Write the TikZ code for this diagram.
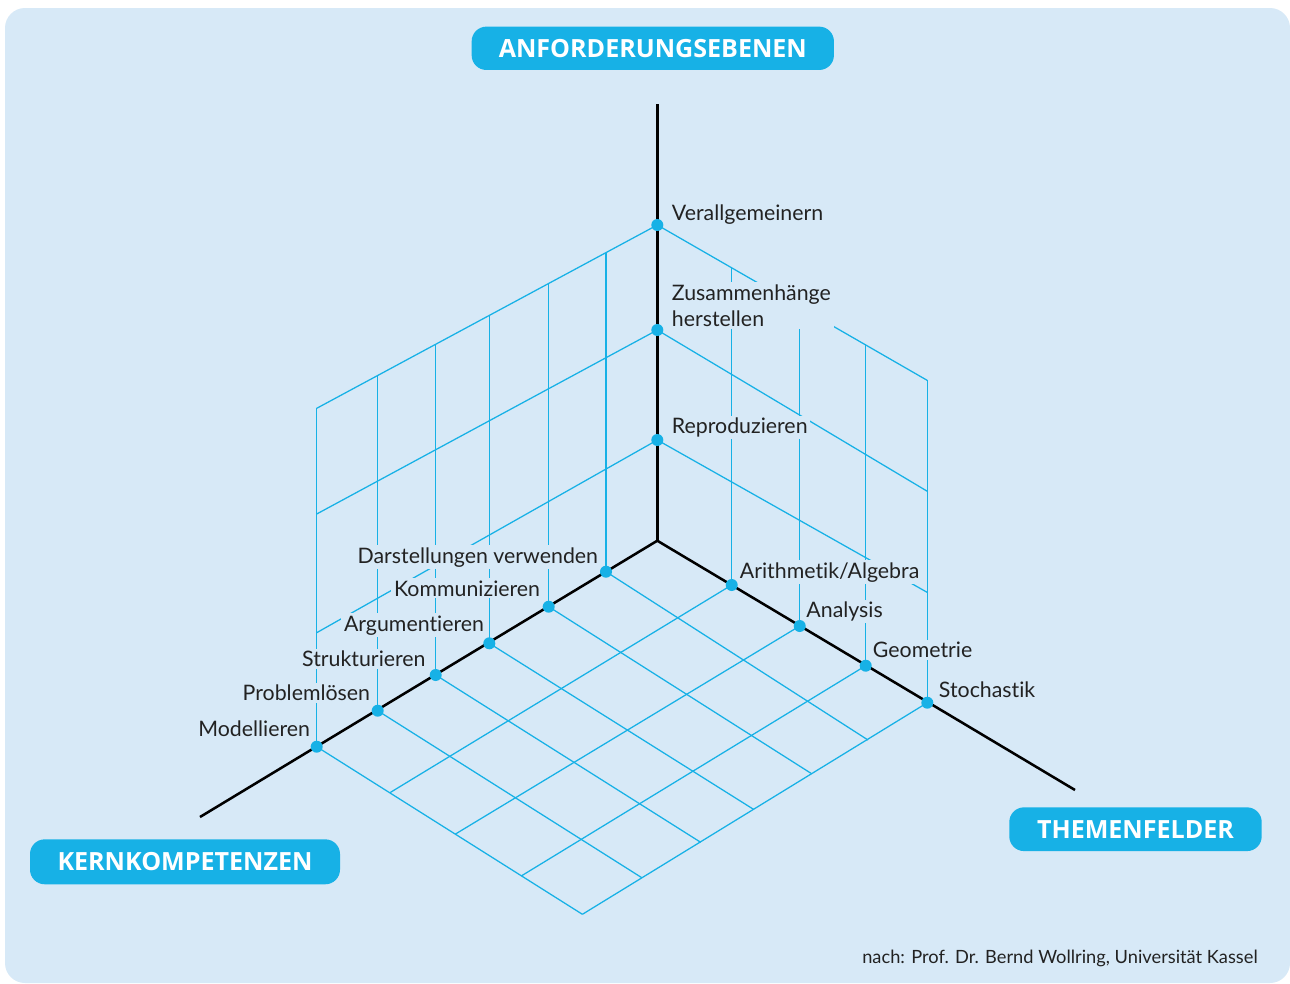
\documentclass[tikz,border=0pt]{standalone}
\usepackage{fontspec}
\setmainfont{Lato}[Ligatures=CommonOff]
\newfontfamily\headfont{Open Sans}
\begin{document}
\definecolor{bg}{HTML}{D7E9F7}
\definecolor{cyan}{HTML}{17B1E6}
\definecolor{ink}{HTML}{222222}
\begin{tikzpicture}[x=0.75pt,y=-0.75pt,
  gridline/.style={draw=cyan, line width=0.95pt},
  axisline/.style={draw=black, line width=1.9pt},
  dot/.style={circle, fill=cyan, inner sep=0pt, minimum size=9pt},
  lbl/.style={fill=bg, inner xsep=2pt, inner ysep=1.5pt, text=ink,
              font=\fontsize{16}{20}\selectfont},
  headbox/.style={fill=cyan, rounded corners=11pt, text=white,
                  font=\headfont\bfseries\fontsize{18.8}{20}\selectfont,
                  inner sep=0pt}]
% canvas and panel
\useasboundingbox (0,0) rectangle (1290,983);
\fill[white] (0,0) rectangle (1290,983);
\fill[bg, rounded corners=15pt] (5,8) rectangle (1290,983);

% axis origin and ends
\coordinate (O) at (657.3,540.7);
\coordinate (Top) at (657.3,104);
\coordinate (LEnd) at (200,817);
\coordinate (REnd) at (1075,790);

% levels on the vertical axis
\coordinate (V1) at (657.3,440);
\coordinate (V2) at (657.3,330);
\coordinate (V3) at (657.3,225);

% competences on the left axis
\coordinate (L1) at (606,571.7);
\coordinate (L2) at (548.7,606.7);
\coordinate (L3) at (489.3,643.3);
\coordinate (L4) at (435.7,675);
\coordinate (L5) at (377.7,710.7);
\coordinate (L6) at (316.7,746.7);

% topics on the right axis
\coordinate (R1) at (731.7,585);
\coordinate (R2) at (799.7,626);
\coordinate (R3) at (865.7,665.7);
\coordinate (R4) at (927.3,702.7);

% floor: far edge and near edge
\coordinate (F1) at (868,740);
\coordinate (F2) at (811,773.3);
\coordinate (F3) at (753.5,809.3);
\coordinate (F4) at (700.7,842.3);
\coordinate (F5) at (641.8,877.7);
\coordinate (C)  at (582.4,914.3);
\coordinate (G1) at (389.9,792.7);
\coordinate (G2) at (455,834.3);
\coordinate (G3) at (521.2,876);

% left wall
\coordinate (WB) at (316.7,632.7);
\coordinate (WM) at (316.7,514);
\coordinate (T1) at (606,252.6);
\coordinate (T2) at (548.7,283.4);
\coordinate (T3) at (489.3,315.4);
\coordinate (T4) at (435.7,344.3);
\coordinate (T5) at (377.7,375.5);
\coordinate (T6) at (316.7,408.3);

% right wall
\coordinate (EB) at (927.3,592.4);
\coordinate (EM) at (927.3,491.3);
\coordinate (S1) at (731.7,267.7);
\coordinate (S2) at (799.7,306.8);
\coordinate (S3) at (865.7,344.6);
\coordinate (S4) at (927.3,380.4);

% floor grid
\draw[gridline] (L1) -- (F1) (L2) -- (F2) (L3) -- (F3)
                (L4) -- (F4) (L5) -- (F5) (L6) -- (C);
\draw[gridline] (R1) -- (G1) (R2) -- (G2) (R3) -- (G3) (R4) -- (C);

% left wall grid
\draw[gridline] (V1) -- (WB) (V2) -- (WM) (V3) -- (T6);
\draw[gridline] (L1) -- (T1) (L2) -- (T2) (L3) -- (T3)
                (L4) -- (T4) (L5) -- (T5) (L6) -- (T6);

% right wall grid
\draw[gridline] (V1) -- (EB) (V2) -- (EM) (V3) -- (S4);
\draw[gridline] (R1) -- (S1) (R2) -- (S2) (R3) -- (S3) (R4) -- (S4);

% labels
\node[lbl, anchor=base west] (tV3) at (669,220.7) {Verallgemeinern};
\node[lbl, anchor=base west, align=left] (tV2) at (669,326.7) {Zusammenhänge\\herstellen};
\node[lbl, anchor=base west] (tV1) at (669,433.3) {Reproduzieren};

\node[lbl, anchor=base east] (tL1) at (601,563) {Darstellungen verwenden};
\node[lbl, anchor=base east] (tL2) at (543,596) {Kommunizieren};
\node[lbl, anchor=base east] (tL3) at (487,631) {Argumentieren};
\node[lbl, anchor=base east] (tL4) at (428.5,666.5) {Strukturieren};
\node[lbl, anchor=base east] (tL5) at (373,700.5) {Problemlösen};
\node[lbl, anchor=base east] (tL6) at (313,736) {Modellieren};

\node[lbl, anchor=base west] (tR1) at (737,578) {Arithmetik/Algebra};
\node[lbl, anchor=base west] (tR2) at (803.5,617.5) {Analysis};
\node[lbl, anchor=base west] (tR3) at (870,657.5) {Geometrie};
\node[lbl, anchor=base west] (tR4) at (936,697.5) {Stochastik};

% axes
\draw[axisline] (Top) -- (O);
\draw[axisline] (O) -- (LEnd);
\draw[axisline] (O) -- (REnd);

% axis marks
\foreach \p in {V1,V2,V3,L1,L2,L3,L4,L5,L6,R1,R2,R3,R4}
  \node[dot] (d\p) at (\p) {};

% axis titles
\node[headbox, minimum width=271.7pt, minimum height=32.5pt] (hA) at (652.8,48.3) {ANFORDERUNGSEBENEN};
\node[headbox, minimum width=232.5pt, minimum height=33.7pt] (hK) at (185,861.8) {KERNKOMPETENZEN};
\node[headbox, minimum width=189.3pt, minimum height=32.8pt] (hT) at (1135.5,829.2) {THEMENFELDER};

% source
\node[text=ink, anchor=base east, inner sep=0pt, font=\fontsize{13.7}{16}\selectfont] (src) at (1258,963)
  {nach: Prof. Dr. Bernd Wollring, Universität Kassel};
\end{tikzpicture}
\end{document}
